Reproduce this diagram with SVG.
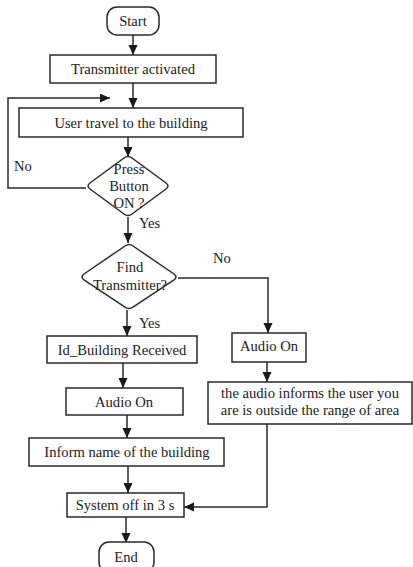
<svg xmlns="http://www.w3.org/2000/svg" width="413" height="567" viewBox="0 0 413 567">
<style>
.b{fill:#fff;stroke:#2a2a2a;stroke-width:1.5}
.t{font-family:"Liberation Serif","Times New Roman",serif;font-size:14.6px;fill:#222;text-anchor:middle}
.l{font-family:"Liberation Serif","Times New Roman",serif;font-size:14.6px;fill:#222}
.c{fill:none;stroke:#2a2a2a;stroke-width:1.5}
</style>
<defs>
<marker id="ah" markerUnits="userSpaceOnUse" markerWidth="10" markerHeight="10" refX="10" refY="4.5" orient="auto">
<path d="M0,0 L10,4.5 L0,9 z" fill="#1a1a1a"/>
</marker>
</defs>
<rect width="413" height="567" fill="#fff"/>
<g id="connectors">
<line class="c" x1="133" y1="35" x2="133" y2="55" marker-end="url(#ah)"/>
<line class="c" x1="133" y1="83" x2="133" y2="108" marker-end="url(#ah)"/>
<polyline class="c" points="86,188 8,188 8,98 110,98" marker-end="url(#ah)"/>
<line class="c" x1="128" y1="137" x2="128" y2="157" marker-end="url(#ah)"/>
<line class="c" x1="128" y1="217" x2="128" y2="243" marker-end="url(#ah)"/>
<line class="c" x1="127" y1="310" x2="127" y2="336" marker-end="url(#ah)"/>
<polyline class="c" points="178,278 268,278 268,333" marker-end="url(#ah)"/>
<line class="c" x1="123" y1="363" x2="123" y2="388" marker-end="url(#ah)"/>
<line class="c" x1="127" y1="415" x2="127" y2="438" marker-end="url(#ah)"/>
<line class="c" x1="128" y1="466" x2="128" y2="493" marker-end="url(#ah)"/>
<line class="c" x1="126" y1="517" x2="126" y2="543" marker-end="url(#ah)"/>
<line class="c" x1="267" y1="362" x2="267" y2="382" marker-end="url(#ah)"/>
<polyline class="c" points="267,424 267,507 184,507" marker-end="url(#ah)"/>
</g>
<g id="start">
<rect class="b" x="107" y="7" width="52" height="28" rx="10"/>
<text class="t" x="133" y="26">Start</text>
</g>
<g id="transmitter">
<rect class="b" x="50" y="55" width="166" height="28"/>
<text class="t" x="133" y="74">Transmitter activated</text>
</g>
<g id="travel">
<rect class="b" x="19" y="108" width="224" height="29"/>
<text class="t" x="131" y="128">User travel to the building</text>
</g>
<g id="press">
<path class="b" d="M124,158 Q128,155 132,158 L166,183 Q170,186 166,189 L132,214 Q128,217 124,214 L90,189 Q86,186 90,183 Z"/>
<text class="t" x="129" y="174">Press</text>
<text class="t" x="129" y="191">Button</text>
<text class="t" x="129" y="208">ON ?</text>
</g>
<g id="find">
<path class="b" d="M125,246 Q129,243 133,246 L174,274 Q178,277 174,280 L133,307 Q129,310 125,307 L84,280 Q80,277 84,274 Z"/>
<text class="t" x="130" y="272">Find</text>
<text class="t" x="130" y="290">Transmitter?</text>
</g>
<g id="idbuilding">
<rect class="b" x="47" y="336" width="150" height="27"/>
<text class="t" x="122" y="355">Id_Building Received</text>
</g>
<g id="audio1">
<rect class="b" x="66" y="388" width="117" height="27"/>
<text class="t" x="124" y="407">Audio On</text>
</g>
<g id="inform">
<rect class="b" x="29" y="438" width="195" height="28"/>
<text class="t" x="127" y="457">Inform name of the building</text>
</g>
<g id="systemoff">
<rect class="b" x="67" y="493" width="117" height="24"/>
<text class="t" x="125" y="510">System off in 3 s</text>
</g>
<g id="end">
<rect class="b" x="99" y="542" width="55" height="30" rx="10"/>
<text class="t" x="126" y="562">End</text>
</g>
<g id="audio2">
<rect class="b" x="232" y="333" width="74" height="29"/>
<text class="t" x="269" y="351">Audio On</text>
</g>
<g id="outside">
<rect class="b" x="208" y="382" width="204" height="42"/>
<text class="t" x="310" y="398">the audio informs the user you</text>
<text class="t" x="310" y="415">are is outside the range of area</text>
</g>
<g id="labels">
<text class="l" x="14" y="171">No</text>
<text class="l" x="139" y="228">Yes</text>
<text class="l" x="213" y="263">No</text>
<text class="l" x="139" y="328">Yes</text>
</g>
</svg>
